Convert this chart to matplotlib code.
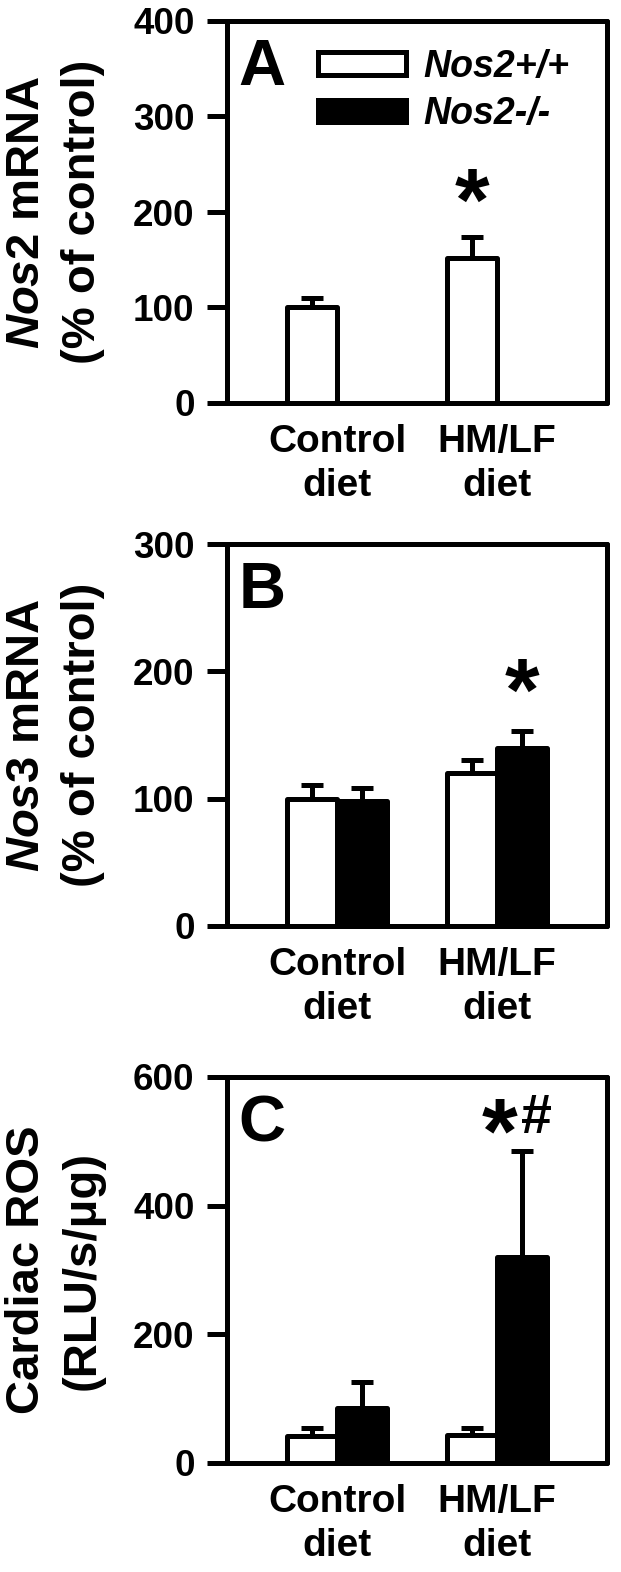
import matplotlib
matplotlib.use("Agg")
import matplotlib.pyplot as plt
import numpy as np

plt.rcParams['font.family'] = ['Liberation Sans', 'DejaVu Sans']
plt.rcParams['font.weight'] = 'bold'
plt.rcParams['mathtext.fontset'] = 'custom'
plt.rcParams['mathtext.it'] = 'Liberation Sans:italic:bold'
plt.rcParams['mathtext.rm'] = 'Liberation Sans:bold'
plt.rcParams['mathtext.bf'] = 'Liberation Sans:bold'

# ---------------- data ----------------
groups = ['Control\ndiet', 'HM/LF\ndiet']
series = ['Nos2+/+', 'Nos2-/-']

a_wt = [100, 152]
a_wt_err = [10, 22]

b_wt = [100, 120]
b_wt_err = [11, 10]
b_ko = [98, 140]
b_ko_err = [10, 13]

c_wt = [42, 43]
c_wt_err = [13, 11]
c_ko = [86, 320]
c_ko_err = [40, 165]

a_ticks = [0, 100, 200, 300, 400]
b_ticks = [0, 100, 200, 300]
c_ticks = [0, 200, 400, 600]

# ---------------- layout ----------------
W, H = 621, 1572
fig = plt.figure(figsize=(W / 100, H / 100), dpi=100)


def add_ax(left, top, right, bottom):
    return fig.add_axes([left / W, 1 - bottom / H, (right - left) / W, (bottom - top) / H])


LW = 3.6
BW = 0.3125
xg = np.arange(1, len(groups) + 1)


def style(ax, ticks, ylabel):
    ax.set_xlim(0.3125, 2.6875)
    ax.set_ylim(ticks[0], ticks[-1])
    ax.set_yticks(ticks)
    ax.set_xticks(xg)
    ax.set_xticklabels(groups, fontsize=28, fontweight='bold', linespacing=1.3)
    for lab in ax.get_yticklabels():
        lab.set_fontsize(26.5)
        lab.set_fontweight('bold')
    ax.tick_params(axis='y', direction='out', length=14.4, width=LW, pad=9)
    ax.tick_params(axis='x', length=0, pad=15)
    for s in ax.spines.values():
        s.set_linewidth(LW)
        s.set_capstyle('round')
    ax.set_ylabel(ylabel, fontsize=34, fontweight='bold', linespacing=1.36,
                  ha='center', va='center')
    ax.yaxis.set_label_coords((55 - 227) / 380, 0.5)


def bars(ax, x, vals, errs, color):
    b = ax.bar(x, vals, width=BW, color=color, edgecolor='black', linewidth=LW, zorder=3)
    for p in b:
        p.set_joinstyle('round')
    ax.errorbar(x, vals, yerr=[np.zeros(len(vals)), errs], fmt='none', ecolor='black',
                elinewidth=LW, capsize=8, capthick=LW, zorder=2)
    return b


# Panel A
axA = add_ax(227, 21, 607, 403)
hA1 = bars(axA, xg - BW / 2, a_wt, a_wt_err, 'white')
hA2 = axA.bar([0], [0], width=BW, color='black', edgecolor='black', linewidth=LW)
style(axA, a_ticks, '$\\mathit{Nos2}$ mRNA\n(% of control)')
axA.text(0.03, 0.955, 'A', transform=axA.transAxes, fontsize=47, fontweight='bold',
         ha='left', va='top')
leg = axA.legend([hA1, hA2], series, loc='upper left',
                 bbox_to_anchor=((318 - 227) / 380, 1 - (49 - 21) / 382),
                 frameon=False, prop={'size': 27, 'weight': 'bold', 'style': 'italic'},
                 handlelength=2.35, handleheight=0.55, handletextpad=0.45,
                 labelspacing=0.3, borderpad=0, borderaxespad=0)
axA.text(2 - BW / 2, 205, '*', fontsize=64, fontweight='bold', ha='center', va='center')

# Panel B
axB = add_ax(227, 544, 607, 926)
bars(axB, xg - BW / 2, b_wt, b_wt_err, 'white')
bars(axB, xg + BW / 2, b_ko, b_ko_err, 'black')
style(axB, b_ticks, '$\\mathit{Nos3}$ mRNA\n(% of control)')
axB.text(0.03, 0.955, 'B', transform=axB.transAxes, fontsize=47, fontweight='bold',
         ha='left', va='top')
axB.text(2 + BW / 2, 180, '*', fontsize=64, fontweight='bold', ha='center', va='center')

# Panel C
axC = add_ax(227, 1077, 607, 1463)
bars(axC, xg - BW / 2, c_wt, c_wt_err, 'white')
bars(axC, xg + BW / 2, c_ko, c_ko_err, 'black')
style(axC, c_ticks, 'Cardiac ROS\n(RLU/s/\u03bcg)')
axC.text(0.03, 0.955, 'C', transform=axC.transAxes, fontsize=47, fontweight='bold',
         ha='left', va='top')
axC.text(2 + BW / 2 - 0.14, 505, '*', fontsize=66, fontweight='bold', ha='center', va='center')
axC.text(2 + BW / 2 + 0.09, 535, '#', fontsize=40, fontweight='bold', ha='center', va='center')

fig.savefig('out.png', dpi=100)
